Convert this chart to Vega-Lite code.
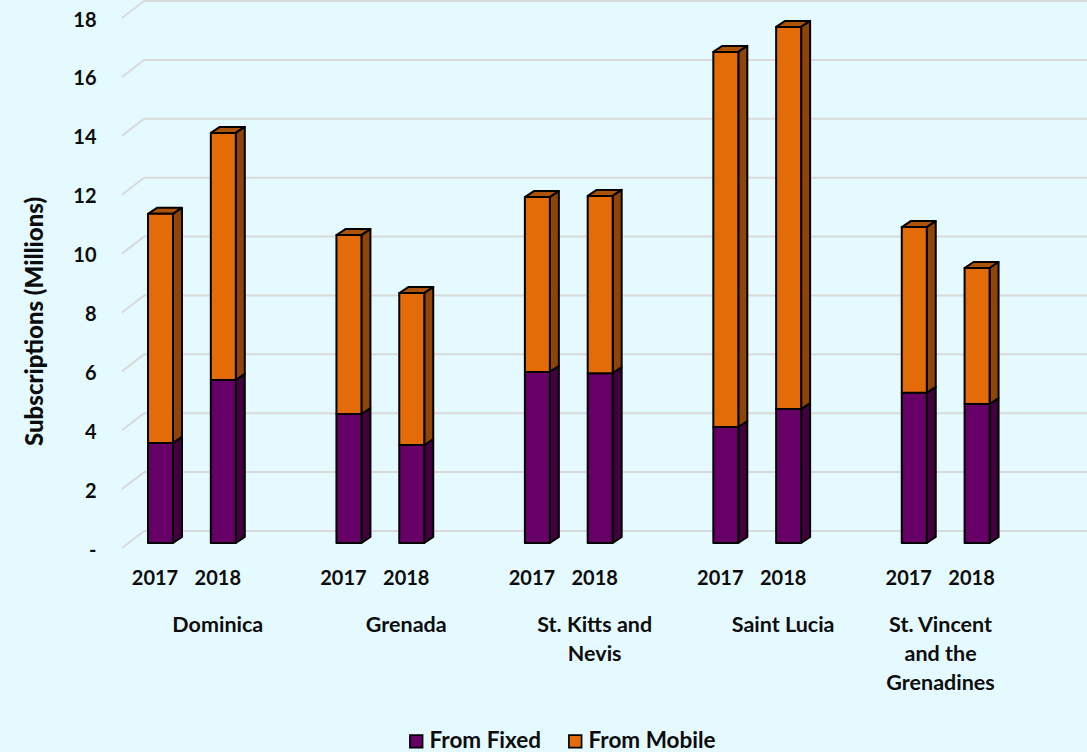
{
"$schema":"https://vega.github.io/schema/vega-lite/v6.json",
"width":965,"height":752,
"autosize":{"type":"none"},
"padding":{"left":122,"top":0,"right":0,"bottom":0},
"background":"#E5FAFF",
"config":{"view":{"stroke":null},"font":"Lato"},
"datasets":{
"ticks":[{"v":0},{"v":2},{"v":4},{"v":6},{"v":8},{"v":10},{"v":12},{"v":14},{"v":16},{"v":18}],
"bars":[
{"country":"Dominica","year":"2017","slot":0,"series":"From Fixed","value":3.4},
{"country":"Dominica","year":"2017","slot":0,"series":"From Mobile","value":7.78},
{"country":"Dominica","year":"2018","slot":1,"series":"From Fixed","value":5.54},
{"country":"Dominica","year":"2018","slot":1,"series":"From Mobile","value":8.39},
{"country":"Grenada","year":"2017","slot":3,"series":"From Fixed","value":4.38},
{"country":"Grenada","year":"2017","slot":3,"series":"From Mobile","value":6.08},
{"country":"Grenada","year":"2018","slot":4,"series":"From Fixed","value":3.33},
{"country":"Grenada","year":"2018","slot":4,"series":"From Mobile","value":5.16},
{"country":"St. Kitts and\nNevis","year":"2017","slot":6,"series":"From Fixed","value":5.81},
{"country":"St. Kitts and\nNevis","year":"2017","slot":6,"series":"From Mobile","value":5.94},
{"country":"St. Kitts and\nNevis","year":"2018","slot":7,"series":"From Fixed","value":5.77},
{"country":"St. Kitts and\nNevis","year":"2018","slot":7,"series":"From Mobile","value":6.02},
{"country":"Saint Lucia","year":"2017","slot":9,"series":"From Fixed","value":3.94},
{"country":"Saint Lucia","year":"2017","slot":9,"series":"From Mobile","value":12.74},
{"country":"Saint Lucia","year":"2018","slot":10,"series":"From Fixed","value":4.55},
{"country":"Saint Lucia","year":"2018","slot":10,"series":"From Mobile","value":12.98},
{"country":"St. Vincent\nand the\nGrenadines","year":"2017","slot":12,"series":"From Fixed","value":5.1},
{"country":"St. Vincent\nand the\nGrenadines","year":"2017","slot":12,"series":"From Mobile","value":5.63},
{"country":"St. Vincent\nand the\nGrenadines","year":"2018","slot":13,"series":"From Fixed","value":4.72},
{"country":"St. Vincent\nand the\nGrenadines","year":"2018","slot":13,"series":"From Mobile","value":4.62}
]},
"layer":[
{"data":{"name":"ticks"},
 "mark":{"type":"rule","stroke":"#D9D9D9","strokeWidth":2,"yOffset":5,"y2Offset":-12},
 "encoding":{
  "x":{"datum":-0.613,"type":"quantitative","scale":{"domain":[-0.613,14.75],"nice":false,"zero":false,"padding":0},"axis":null},
  "x2":{"datum":-0.263},
  "y":{"field":"v","type":"quantitative","scale":{"domain":[-7.099,18.444],"nice":false,"zero":false,"padding":0},
   "axis":{"values":[0,2,4,6,8,10,12,14,16,18],"grid":false,"domain":false,"ticks":false,"labelPadding":26,"labelOffset":7,
    "labelExpr":"datum.value==0?'-':datum.label","labelFont":"Lato","labelFontWeight":"bold","labelFontSize":20,"labelColor":"#0D0D0D","labelOverlap":false,
    "title":"Subscriptions (Millions)","titleFont":"Lato","titleFontWeight":900,"titleFontSize":24,"titleColor":"#0D0D0D","titleX":-87,"titleY":321,"titleAngle":-90,"titleAlign":"center","titleBaseline":"middle"}},
  "y2":{"field":"v"}}},
{"data":{"name":"ticks"},
 "mark":{"type":"rule","stroke":"#D9D9D9","strokeWidth":2,"yOffset":-12,"y2Offset":-12},
 "encoding":{
  "x":{"datum":-0.263,"type":"quantitative","scale":{"domain":[-0.613,14.75],"nice":false,"zero":false,"padding":0},"axis":null},
  "x2":{"datum":14.75},
  "y":{"field":"v","type":"quantitative","scale":{"domain":[-7.099,18.444],"nice":false,"zero":false,"padding":0},"axis":null},
  "y2":{"field":"v"}}},
{"data":{"name":"bars"},
 "transform":[
  {"stack":"value","groupby":["slot"],"sort":[{"field":"series","order":"ascending"}],"as":["y0","y1"]},
  {"filter":"datum.series=='From Mobile'"},
  {"fold":["y0","y1"],"as":["edge","edgeValue"]},
  {"calculate":"datum.edge=='y1'?datum.slot-0.199+0.143:datum.slot-0.199","as":"xa"},
  {"calculate":"datum.edge=='y1'?datum.slot+0.199+0.143:datum.slot+0.199","as":"xb"},
  {"calculate":"datum.edge=='y1'?datum.y1+0.204:datum.y1","as":"yt"}],
 "mark":{"type":"area","orient":"horizontal","fill":"#AD5307","stroke":"#000000","strokeWidth":2,"strokeJoin":"round"},
 "encoding":{
  "detail":{"field":"slot"},
  "x":{"field":"xa","type":"quantitative","scale":{"domain":[-0.613,14.75],"nice":false,"zero":false,"padding":0},"axis":null},
  "x2":{"field":"xb"},
  "y":{"field":"yt","type":"quantitative","scale":{"domain":[-7.099,18.444],"nice":false,"zero":false,"padding":0},"axis":null}}},
{"data":{"name":"bars"},
 "transform":[
  {"stack":"value","groupby":["slot"],"sort":[{"field":"series","order":"ascending"}],"as":["y0","y1"]},
  {"fold":["y0","y1"],"as":["edge","edgeValue"]},
  {"calculate":"datum.edge=='y1'?datum.slot+0.199+0.143:datum.slot+0.199","as":"xs"},
  {"calculate":"datum.edge=='y1'?datum.y0+0.204:datum.y0","as":"yl"},
  {"calculate":"datum.edge=='y1'?datum.y1+0.204:datum.y1","as":"yh"}],
 "mark":{"type":"area","stroke":"#000000","strokeWidth":2,"strokeJoin":"round"},
 "encoding":{
  "detail":{"field":"slot"},
  "fill":{"field":"series","type":"nominal","scale":{"domain":["From Fixed","From Mobile"],"range":["#42003F","#8F4506"]},"legend":null},
  "x":{"field":"xs","type":"quantitative","scale":{"domain":[-0.613,14.75],"nice":false,"zero":false,"padding":0},"axis":null},
  "y":{"field":"yh","type":"quantitative","scale":{"domain":[-7.099,18.444],"nice":false,"zero":false,"padding":0},"axis":null},
  "y2":{"field":"yl"}}},
{"data":{"name":"bars"},
 "transform":[{"stack":"value","groupby":["slot"],"sort":[{"field":"series","order":"ascending"}],"as":["y0","y1"]}],
 "mark":{"type":"bar","orient":"vertical","size":25,"stroke":"#000000","strokeWidth":2,"strokeJoin":"round"},
 "encoding":{
  "x":{"field":"slot","type":"quantitative","scale":{"domain":[-0.613,14.75],"nice":false,"zero":false,"padding":0},"axis":null},
  "y":{"field":"y1","type":"quantitative","scale":{"domain":[-7.099,18.444],"nice":false,"zero":false,"padding":0},"axis":null},
  "y2":{"field":"y0"},
  "color":{"field":"series","type":"nominal","scale":{"domain":["From Fixed","From Mobile"],"range":["#660066","#E36C09"]},
   "legend":{"orient":"none","legendX":283,"legendY":730,"direction":"horizontal","title":null,"symbolType":"square","symbolSize":160,"symbolStrokeWidth":1.7,"symbolStrokeColor":"#000000","labelFont":"Lato","labelFontWeight":"bold","labelFontSize":22.5,"labelColor":"#0D0D0D","columnPadding":22,"labelOffset":2,"labelLimit":200}}}},
{"data":{"name":"bars"},
 "transform":[{"filter":"datum.series=='From Fixed'"}],
 "mark":{"type":"text","font":"Lato","fontWeight":"bold","fontSize":20,"color":"#0D0D0D","xOffset":-5.5,"yOffset":36,"baseline":"middle","align":"center"},
 "encoding":{
  "x":{"field":"slot","type":"quantitative","scale":{"domain":[-0.613,14.75],"nice":false,"zero":false,"padding":0},"axis":null},
  "y":{"datum":0,"type":"quantitative","scale":{"domain":[-7.099,18.444],"nice":false,"zero":false,"padding":0},"axis":null},
  "text":{"field":"year"}}},
{"data":{"name":"bars"},
 "transform":[{"filter":"datum.series=='From Fixed' && datum.year=='2018' && datum.slot<12"}],
 "mark":{"type":"text","font":"Lato","fontWeight":"bold","fontSize":21.5,"color":"#0D0D0D","xOffset":-5.5,"yOffset":89,"baseline":"alphabetic","align":"center","lineBreak":"\n","lineHeight":29},
 "encoding":{
  "x":{"field":"slot","type":"quantitative","scale":{"domain":[-0.613,14.75],"nice":false,"zero":false,"padding":0},"axis":null},
  "y":{"datum":0,"type":"quantitative","scale":{"domain":[-7.099,18.444],"nice":false,"zero":false,"padding":0},"axis":null},
  "text":{"field":"country"}}},
{"data":{"name":"bars"},
 "transform":[{"filter":"datum.series=='From Fixed' && datum.year=='2018' && datum.slot>12"}],
 "mark":{"type":"text","font":"Lato","fontWeight":"bold","fontSize":21.5,"color":"#0D0D0D","xOffset":-36.5,"yOffset":89,"baseline":"alphabetic","align":"center","lineBreak":"\n","lineHeight":29},
 "encoding":{
  "x":{"field":"slot","type":"quantitative","scale":{"domain":[-0.613,14.75],"nice":false,"zero":false,"padding":0},"axis":null},
  "y":{"datum":0,"type":"quantitative","scale":{"domain":[-7.099,18.444],"nice":false,"zero":false,"padding":0},"axis":null},
  "text":{"field":"country"}}}
],
"resolve":{"scale":{"color":"independent","fill":"independent"},"axis":{"y":"independent"}}
}
